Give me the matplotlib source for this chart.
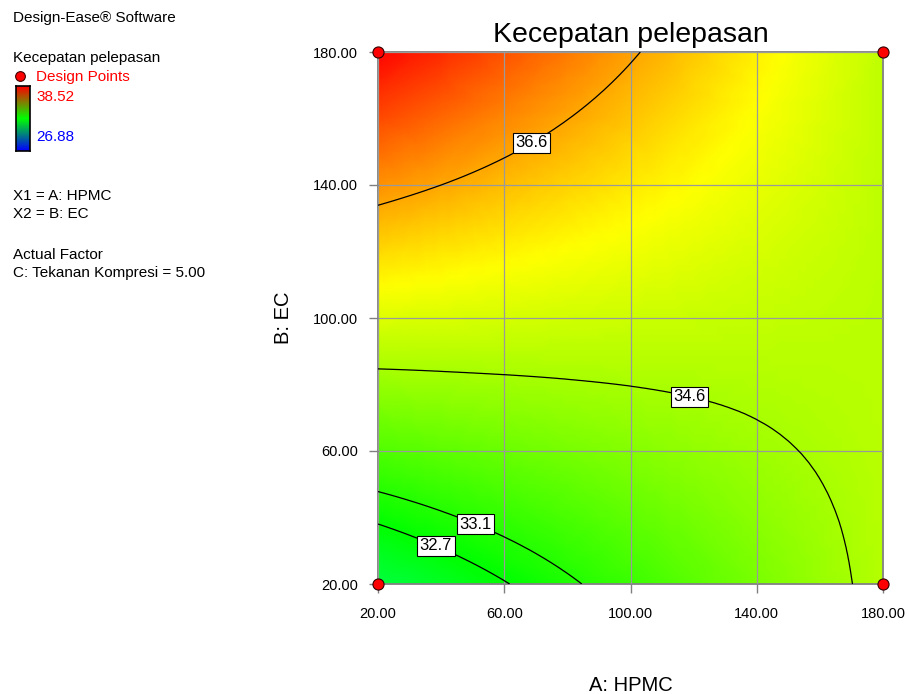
import matplotlib
matplotlib.use("Agg")
import matplotlib.pyplot as plt
import matplotlib.tri as mtri
import numpy as np
from matplotlib.colors import LinearSegmentedColormap

plt.rcParams['font.family'] = ['Liberation Sans', 'DejaVu Sans']

# factor settings (A: HPMC across, B: EC up)
hpmc = [20, 40, 60, 80, 100, 120, 140, 160, 180]
ec = [20, 40, 60, 80, 100, 120, 140, 160, 180]

# Kecepatan pelepasan, one row per EC value
rate = [
    [31.97, 32.32, 32.67, 33.02, 33.37, 33.72, 34.07, 34.42, 34.77],
    [32.78, 33.03, 33.28, 33.53, 33.78, 34.03, 34.28, 34.53, 34.78],
    [33.60, 33.75, 33.90, 34.05, 34.20, 34.35, 34.50, 34.65, 34.80],
    [34.41, 34.46, 34.51, 34.56, 34.61, 34.66, 34.71, 34.76, 34.81],
    [35.22, 35.17, 35.12, 35.07, 35.02, 34.97, 34.92, 34.87, 34.82],
    [36.03, 35.88, 35.73, 35.58, 35.43, 35.28, 35.13, 34.98, 34.83],
    [36.85, 36.60, 36.35, 36.10, 35.85, 35.60, 35.35, 35.10, 34.85],
    [37.66, 37.31, 36.96, 36.61, 36.26, 35.91, 35.56, 35.21, 34.86],
    [38.47, 38.02, 37.57, 37.12, 36.67, 36.22, 35.77, 35.32, 34.87],
]

contour_levels = [32.7, 33.1, 34.6, 36.6]
label_spots = [(39.0, 32.9), (51.7, 39.8), (119.8, 81.1), (68.2, 153.5)]

design_a = [20, 20, 180, 180]
design_b = [20, 180, 20, 180]

resp_min, resp_max = 26.88, 38.52

cmap = LinearSegmentedColormap.from_list(
    'de', ['#0000ff', '#00ffff', '#00ff00', '#ffff00', '#ff0000'])

fig = plt.figure(figsize=(9.09, 6.94), dpi=100)

# pixel-based overlay for the side panel text
side = fig.add_axes([0, 0, 1, 1])
side.set_xlim(0, 909)
side.set_ylim(694, 0)
side.axis('off')

fs = 11
side.text(13, 18, 'Design-Ease® Software', fontsize=fs, va='center')
side.text(13, 58, 'Kecepatan pelepasan', fontsize=fs, va='center')
side.plot([20], [76], 'o', color='red', mec='#400000', mew=0.8, ms=7)
side.text(36, 77, 'Design Points', fontsize=fs, va='center', color='red')
side.text(36, 97, f'{resp_max:.2f}', fontsize=fs, va='center', color='red')
side.text(36, 137, f'{resp_min:.2f}', fontsize=fs, va='center', color='blue')
side.text(13, 196, 'X1 = A: HPMC', fontsize=fs, va='center')
side.text(13, 214, 'X2 = B: EC', fontsize=fs, va='center')
side.text(13, 255, 'Actual Factor', fontsize=fs, va='center')
side.text(13, 273, 'C: Tekanan Kompresi = 5.00', fontsize=fs, va='center')

bar = fig.add_axes([16 / 909, 1 - 151 / 694, 14 / 909, 65 / 694])
bar_cmap = LinearSegmentedColormap.from_list('rgb', ['#0000ff', '#00ff00', '#ff0000'])
bar.imshow(np.linspace(0, 1, 100)[:, None], cmap=bar_cmap, origin='lower',
           aspect='auto', extent=[0, 1, 0, 1])
bar.set_xticks([])
bar.set_yticks([])
for s in bar.spines.values():
    s.set_color('black')
    s.set_linewidth(1.2)

ax = fig.add_axes([378 / 909, 1 - 584 / 694, 505 / 909, 532 / 694])
X, Y = np.meshgrid(hpmc, ec)
Z = np.array(rate)

# smooth the read grid with matplotlib's own triangulation refiner
tri = mtri.Triangulation(X.ravel(), Y.ravel())
refiner = mtri.UniformTriRefiner(tri)
tri_f, z_f = refiner.refine_field(Z.ravel(), subdiv=3)

ax.tripcolor(tri_f, z_f, cmap=cmap, vmin=resp_min, vmax=resp_max,
             shading='gouraud', zorder=0)
cs = ax.tricontour(tri_f, z_f, levels=contour_levels, colors='black',
                   linewidths=0.9, zorder=3)
labels = ax.clabel(cs, inline=False, fmt='%.1f', fontsize=12,
                   manual=label_spots, zorder=4)
for t in labels:
    t.set_rotation(0)
    t.set_bbox(dict(boxstyle='square,pad=0.15', fc='white', ec='black', lw=0.8))

ax.plot(design_a, design_b, 'o', color='red', mec='#300000', mew=0.8, ms=8,
        clip_on=False, zorder=6)

ax.set_xlim(20, 180)
ax.set_ylim(20, 180)
ticks = [20, 60, 100, 140, 180]
ax.set_xticks(ticks)
ax.set_yticks(ticks)
ax.set_xticklabels([f'{v:.2f}' for v in ticks])
ax.set_yticklabels([f'{v:.2f}' for v in ticks])
ax.tick_params(direction='out', length=6.5, width=1, color='#808080',
               labelsize=10.5, pad=8)
ax.tick_params(axis='x', pad=10)
ax.grid(True, color='#9a9a9a', linewidth=0.9)
ax.set_axisbelow(False)
for s in ax.spines.values():
    s.set_color('#808080')
    s.set_linewidth(1.3)

ax.set_title('Kecepatan pelepasan', fontsize=20.5, pad=7)
ax.set_xlabel('A: HPMC', fontsize=14.5)
ax.xaxis.set_label_coords(0.5, -0.19)
ax.xaxis.label.set_va('center')
ax.set_ylabel('B: EC', fontsize=14.5)
ax.yaxis.set_label_coords(-0.188, 0.5)
ax.yaxis.label.set_va('center')

fig.savefig('out.png', dpi=100)
